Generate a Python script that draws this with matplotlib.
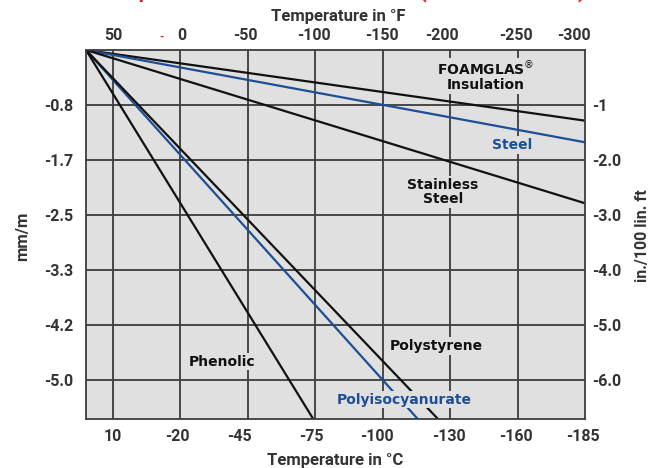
import matplotlib
matplotlib.use("Agg")
import matplotlib.pyplot as plt

# ---- data (positions in grid units: x gridlines at 1..7, right edge 8; y gridlines at -1..-6) ----
top_f_labels = ["50", "0", "-50", "-100", "-150", "-200", "-250", "-300"]
top_f_pos = [1.0, 2.02, 2.97, 3.98, 4.99, 5.88, 6.98, 7.84]
bottom_c_labels = ["10", "-20", "-45", "-75", "-100", "-130", "-160", "-185"]
bottom_c_pos = [1.0, 1.96, 2.88, 3.94, 4.92, 5.98, 6.97, 7.97]
left_mm_labels = ["-0.8", "-1.7", "-2.5", "-3.3", "-4.2", "-5.0"]
right_in_labels = ["-1", "-2.0", "-3.0", "-4.0", "-5.0", "-6.0"]
grid_y = [-1, -2, -3, -4, -5, -6]
grid_x = [1, 2, 3, 4, 5, 6, 7]

origin = (0.6, 0.0)
series_names = ["FOAMGLAS", "Steel", "Stainless Steel", "Polyisocyanurate", "Polystyrene", "Phenolic"]
series_end_x = [8.0, 8.0, 8.0, 5.52, 5.82, 3.97]
series_end_y = [-1.285, -1.678, -2.787, -6.71, -6.71, -6.71]
series_colors = ["#111111", "#1c4f96", "#111111", "#1c4f96", "#111111", "#111111"]

label_texts = ["FOAMGLAS$^{\u00ae}$\nInsulation", "Steel", "Stainless\nSteel", "Polyisocyanurate", "Polystyrene", "Phenolic"]
label_x = [6.53, 6.92, 5.89, 5.32, 5.80, 2.62]
label_y = [-0.47, -1.727, -2.58, -6.36, -5.38, -5.67]

BG = "#e0e0e0"
GRID = "#3c3c3c"
TXT = "#333333"

fig = plt.figure(figsize=(6.61, 4.68), dpi=100)
ax = fig.add_axes([86/661, 1-419/468, (585-86)/661, (419-50)/468])
ax.set_facecolor(BG)
ax.set_xlim(0.6, 8.0)
ax.set_ylim(-6.71, 0.0)

for gx in grid_x:
    ax.axvline(gx, color=GRID, lw=1.3, zorder=1)
for gy in grid_y:
    ax.axhline(gy, color=GRID, lw=1.3, zorder=1)

for ex, ey, c in zip(series_end_x, series_end_y, series_colors):
    ax.plot([origin[0], ex], [origin[1], ey], color=c, lw=1.6, zorder=2, solid_capstyle="butt")

for t, x, y, c in zip(label_texts, label_x, label_y, series_colors):
    ax.text(x, y, t, ha="center", va="center", color=c, fontsize=10, fontweight="bold",
            family="DejaVu Sans", linespacing=1.05, zorder=3,
            bbox=dict(boxstyle="square,pad=0.12", fc=BG, ec="none"))

for s in ax.spines.values():
    s.set_color(GRID)
    s.set_linewidth(1.3)

tickfont = dict(family="Roboto", weight="bold", size=11.5)
ax.set_xticks(bottom_c_pos)
ax.set_xticklabels(bottom_c_labels, color=TXT, fontdict=tickfont)
ax.set_yticks(grid_y)
ax.set_yticklabels(left_mm_labels, color=TXT, fontdict=tickfont)
ax.tick_params(axis="x", length=0, pad=7.5)
ax.tick_params(axis="y", length=0, pad=9)

axr = ax.twinx()
axr.set_ylim(ax.get_ylim())
axr.set_yticks(grid_y)
axr.set_yticklabels(right_in_labels, color=TXT, fontdict=tickfont)
axr.tick_params(axis="y", length=0, pad=5)
for s in axr.spines.values():
    s.set_visible(False)

axt = ax.twiny()
axt.set_xlim(ax.get_xlim())
axt.set_xticks(top_f_pos)
axt.set_xticklabels(top_f_labels, color=TXT, fontdict=tickfont)
axt.tick_params(axis="x", length=0, pad=5)
for s in axt.spines.values():
    s.set_visible(False)

fig.text(338/661, 1-17/468, "Temperature in \u00b0F", ha="center", va="center",
         color=TXT, family="Roboto", weight="bold", size=12)
fig.text(335/661, 1-460/468, "Temperature in \u00b0C", ha="center", va="center",
         color=TXT, family="Roboto", weight="bold", size=12)
fig.text(23/661, 1-236/468, "mm/m", ha="center", va="center", rotation=90,
         color=TXT, family="Roboto", weight="bold", size=12)
fig.text(643/661, 1-236/468, "in./100 lin. ft", ha="center", va="center", rotation=90,
         color=TXT, family="Roboto", weight="bold", size=11.5)
fig.text(161/661, 1-37/468, "-", ha="center", va="center", color="#e02020",
         family="Roboto", weight="bold", size=8)
# red title, cut off by the top edge of the image
fig.text(340/661, 1+3/468, "Comparative Thermal Contraction (Relative to 21\u00b0C)", ha="center",
         va="baseline", color="#e02020", family="Roboto", weight="bold", size=15)

fig.savefig("out.png", dpi=100)
